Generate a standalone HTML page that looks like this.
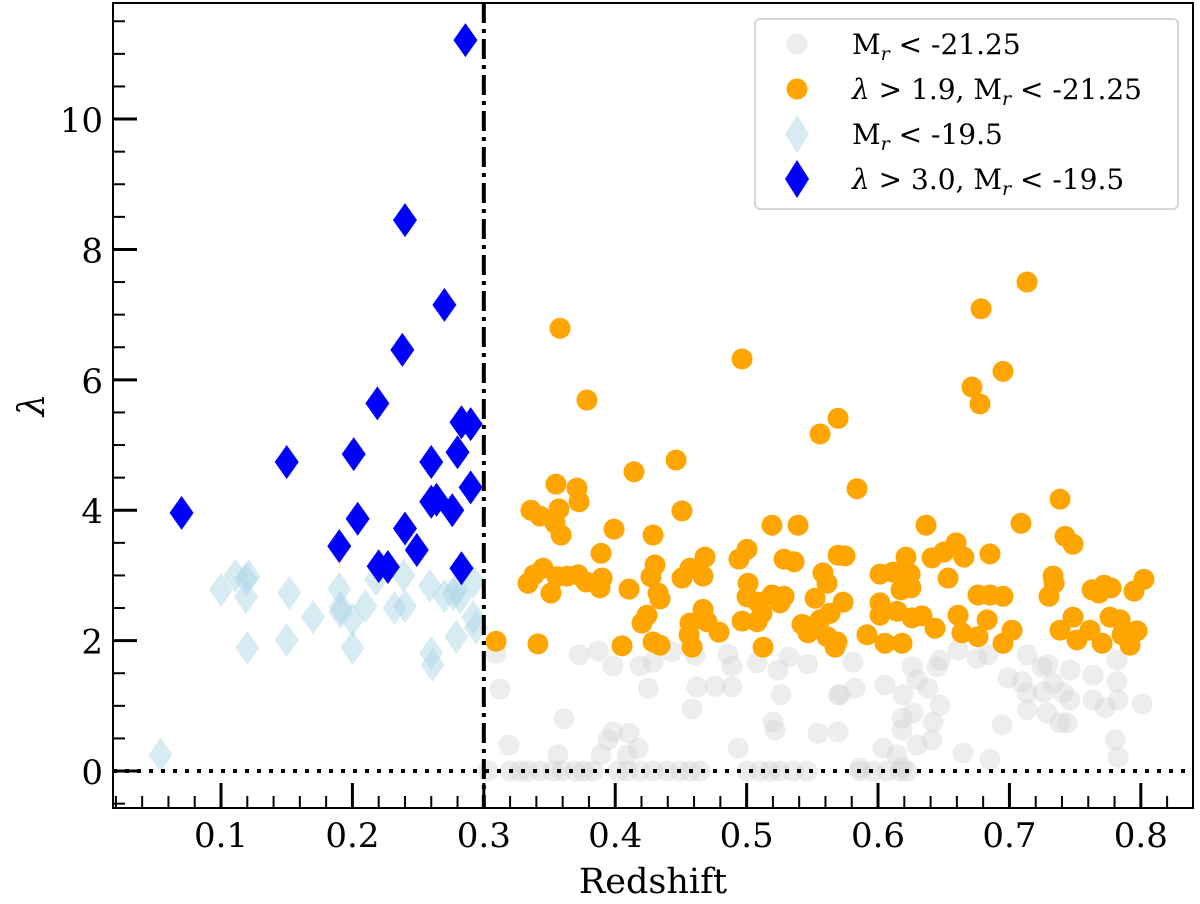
<!DOCTYPE html>
<html><head><meta charset="utf-8"><style>
body{margin:0;background:#fff}
svg{display:block}
text{font-family:"DejaVu Serif","Liberation Serif",serif;fill:#000}
</style></head><body>
<svg id="chart" width="1200" height="904" xmlns="http://www.w3.org/2000/svg">
<g id="marks"></g>
<g id="axes"></g>
<g id="legend"></g>
</svg>
<script>
const grayZ=[0.3093,0.3725,0.3870,0.3983,0.4189,0.4288,0.4432,0.4607,0.4858,0.4889,0.5079,0.5239,0.5323,0.5467,0.3123,0.4250,0.4623,0.4760,0.4889,0.5262,0.4585,0.3610,0.5201,0.5216,0.5543,0.5696,0.3192,0.3983,0.4105,0.3945,0.3564,0.3892,0.4174,0.4090,0.4935,0.5696,0.5810,0.5711,0.5825,0.6053,0.6190,0.6259,0.6297,0.6381,0.6472,0.6449,0.6472,0.6266,0.6183,0.6183,0.6419,0.6411,0.6297,0.6038,0.6145,0.5863,0.6183,0.6609,0.6753,0.6837,0.6944,0.6647,0.6852,0.6989,0.7134,0.7096,0.7134,0.7134,0.7248,0.7294,0.7256,0.7286,0.7332,0.7408,0.7461,0.7461,0.7385,0.7438,0.7636,0.7636,0.7728,0.7819,0.7819,0.7827,0.8009,0.7804,0.7827,
0.3032,0.3199,0.3276,0.3336,0.3428,0.3527,0.3595,0.3694,0.3755,0.3831,0.4021,0.4090,0.4189,0.4288,0.4394,0.4493,0.4569,0.4645,0.5003,0.5102,0.5178,0.5254,0.5353,0.5460,0.5863,0.5962,0.6069,0.6168,0.6221];
const grayL=[1.81,1.78,1.84,1.61,1.61,1.67,1.83,1.78,1.79,1.61,1.66,1.55,1.75,1.64,1.26,1.27,1.29,1.30,1.29,1.17,0.95,0.80,0.75,0.63,0.58,0.60,0.40,0.60,0.58,0.48,0.25,0.25,0.35,0.25,0.35,1.17,1.67,1.17,1.27,1.32,1.17,1.60,1.40,1.27,1.70,1.60,1.01,0.89,0.81,0.63,0.75,0.48,0.40,0.35,0.25,0.05,0.06,1.86,1.73,1.78,0.71,0.28,0.18,1.43,1.78,1.37,1.20,0.94,1.60,1.63,1.21,0.89,1.35,1.20,1.55,1.09,0.74,0.74,1.47,1.09,0.97,1.70,1.37,1.09,1.03,0.48,0.21,
0,0,0,0,0,0,0,0,0,0,0,0,0,0,0,0,0,0,0,0,0,0,0,0,0,0,0,0,0];
const orangeZ=[0.358,0.4965,0.3785,0.5696,0.5559,0.4463,0.4143,0.3549,0.3709,0.3725,0.3572,0.3359,0.3428,0.3542,0.4508,0.3588,0.3991,0.4288,0.5193,0.5391,0.3892,0.4683,0.5003,0.4942,0.5285,0.5361,0.5696,0.4303,0.4569,0.3451,0.5581,0.3336,0.3382,0.3557,0.3633,0.3717,0.3778,0.3900,0.3884,0.3511,0.4105,0.4272,0.4508,0.4668,0.5011,0.4326,0.4341,0.5003,0.5193,0.5285,0.5087,0.5254,0.5521,0.5612,0.4242,0.4204,0.4668,0.4569,0.4965,0.5079,0.5117,0.4699,0.4790,0.5422,0.5467,0.5559,0.5612,0.5673,0.4562,0.4585,0.3093,0.3412,0.4052,0.4288,0.4341,0.5125,
0.7134,0.6784,0.6951,0.6715,0.6776,0.5840,0.7385,0.6365,0.7088,0.7423,0.7484,0.5749,0.6213,0.6411,0.6502,0.6594,0.6654,0.6852,0.6015,0.6114,0.6244,0.6175,0.6251,0.6533,0.7332,0.7340,0.7301,0.8024,0.7948,0.7629,0.7720,0.7773,0.7682,0.6761,0.6852,0.6951,0.5734,0.6015,0.6015,0.6145,0.6259,0.6335,0.6434,0.6609,0.6639,0.6761,0.6830,0.6951,0.7020,0.7385,0.7484,0.7514,0.7613,0.7705,0.7766,0.7842,0.7971,0.7918,0.7857,0.5916,0.6053,0.6183,0.5688,0.5635];
const orangeL=[6.79,6.32,5.69,5.41,5.17,4.77,4.59,4.40,4.34,4.13,4.02,4.00,3.91,3.80,3.99,3.62,3.71,3.62,3.77,3.77,3.34,3.28,3.40,3.25,3.25,3.21,3.31,3.16,3.11,3.11,3.04,2.88,3.01,2.98,2.99,3.01,2.90,2.96,2.81,2.73,2.79,2.98,2.96,2.99,2.88,2.73,2.64,2.67,2.70,2.68,2.59,2.58,2.65,2.88,2.39,2.27,2.48,2.27,2.30,2.29,2.42,2.29,2.13,2.25,2.12,2.32,2.06,1.90,2.09,1.90,1.99,1.95,1.92,1.98,1.93,1.90,
7.50,7.09,6.13,5.89,5.63,4.33,4.17,3.77,3.80,3.60,3.48,3.30,3.28,3.27,3.36,3.50,3.28,3.33,3.02,3.05,3.02,2.78,2.81,2.96,2.99,2.88,2.68,2.94,2.76,2.78,2.85,2.81,2.73,2.70,2.70,2.68,2.59,2.58,2.39,2.45,2.35,2.38,2.19,2.39,2.12,2.06,2.32,1.96,2.16,2.16,2.36,2.01,2.16,1.96,2.36,2.32,2.15,1.93,2.09,2.09,1.96,1.96,1.98,2.42];
const lightZ=[0.100,0.111,0.121,0.119,0.119,0.120,0.152,0.150,0.170,0.190,0.191,0.191,0.200,0.210,0.200,0.218,0.232,0.240,0.239,0.259,0.260,0.261,0.270,0.279,0.277,0.282,0.292,0.279,0.294,0.292,0.054];
const lightL=[2.78,3.00,2.99,2.67,2.94,1.89,2.73,2.01,2.36,2.79,2.51,2.44,2.32,2.53,1.89,2.94,2.50,2.53,3.00,2.84,1.81,1.63,2.68,2.79,2.71,2.67,2.90,2.06,2.20,2.36,0.25];
const blueZ=[0.286,0.240,0.270,0.238,0.219,0.283,0.290,0.280,0.201,0.150,0.260,0.290,0.070,0.260,0.264,0.276,0.204,0.240,0.190,0.249,0.220,0.227,0.283];
const blueL=[11.21,8.45,7.15,6.46,5.64,5.35,5.32,4.89,4.86,4.74,4.74,4.35,3.96,4.13,4.16,4.00,3.87,3.72,3.45,3.39,3.14,3.13,3.11];
const xTicks=[0.1,0.2,0.3,0.4,0.5,0.6,0.7,0.8];
const yTicks=[0,2,4,6,8,10];
const zCut=[0.3];

const L=113,R=1193,T=3,B=808;
const X0=0.0178,X1=0.8397,Y0=-0.567,Y1=11.78;
const sx=v=>L+(v-X0)/(X1-X0)*(R-L);
const sy=v=>B-(v-Y0)/(Y1-Y0)*(B-T);
const NS='http://www.w3.org/2000/svg';
function mk(tag,attrs,parent){const e=document.createElementNS(NS,tag);for(const k in attrs)e.setAttribute(k,attrs[k]);parent.appendChild(e);return e;}
const marks=document.getElementById('marks'),axes=document.getElementById('axes'),leg=document.getElementById('legend');
const cp=mk('clipPath',{id:'clip'},marks);
mk('rect',{x:L,y:T,width:R-L,height:B-T},cp);
const g=mk('g',{'clip-path':'url(#clip)'},marks);
function dia(cx,cy,w,h){return `M${cx},${cy-h/2}L${cx+w/2},${cy}L${cx},${cy+h/2}L${cx-w/2},${cy}Z`;}
grayZ.forEach((z,i)=>{const c=mk('circle',{cx:sx(z),cy:sy(grayL[i]),r:10.5,fill:'#d3d3d3','fill-opacity':0.4},g);

});
orangeZ.forEach((z,i)=>{const c=mk('circle',{cx:sx(z),cy:sy(orangeL[i]),r:10.5,fill:'#ffa500'},g);

});
lightZ.forEach((z,i)=>{const p=mk('path',{d:dia(sx(z),sy(lightL[i]),24,34),fill:'#add8e6','fill-opacity':0.5},g);

});
blueZ.forEach((z,i)=>{const p=mk('path',{d:dia(sx(z),sy(blueL[i]),24,34),fill:'#0000ff'},g);

});
const h0=mk('line',{x1:L,x2:R,y1:sy(0),y2:sy(0),stroke:'#000','stroke-width':4,'stroke-dasharray':'4,8'},g);


zCut.forEach(z=>{const v=mk('line',{x1:sx(z),x2:sx(z),y1:T,y2:B,stroke:'#000','stroke-width':4,'stroke-dasharray':'20,6,4,6'},g);

});
const fr=mk('rect',{x:L,y:T,width:R-L,height:B-T,fill:'none',stroke:'#000','stroke-width':2},axes);


for(let k=1;k<=41;k++){const v=k*0.02;if(v<X0||v>X1)continue;const major=Math.abs(v*10-Math.round(v*10))<1e-6;
mk('line',{x1:sx(v),x2:sx(v),y1:B,y2:B-(major?25:12),stroke:'#000','stroke-width':major?3:2},axes);}
for(let k=-1;k<=23;k++){const v=k*0.5;if(v<Y0||v>Y1)continue;const major=k%4===0;
mk('line',{x1:L,x2:L+(major?24:12),y1:sy(v),y2:sy(v),stroke:'#000','stroke-width':major?3:2},axes);}
xTicks.forEach(v=>{const t=mk('text',{x:sx(v),y:847,'font-size':34,'text-anchor':'middle'},axes);t.textContent=v.toFixed(1);

});
yTicks.forEach(v=>{const t=mk('text',{x:103,y:sy(v)+13,'font-size':34,'text-anchor':'end'},axes);t.textContent=v;

});
const xt=mk('text',{x:653,y:893,'font-size':35,'text-anchor':'middle'},axes);xt.textContent='Redshift';


const yt=mk('text',{x:44,y:405,'font-size':36,'text-anchor':'middle','font-style':'italic',transform:'rotate(-90 44 405)'},axes);yt.textContent='λ';


const lb=mk('rect',{x:755,y:19,width:423,height:190,rx:5,fill:'#fff','fill-opacity':0.8,stroke:'#d6d6d6','stroke-width':2},leg);


const sub='<tspan dy="6" font-size="19" font-style="italic">r</tspan><tspan dy="-6"> &lt; -';
const entries=[['c','#d3d3d3',0.4,'M'+sub+'21.25</tspan>'],
['c','#ffa500',1,'<tspan font-style="italic">λ</tspan> &gt; 1.9, M'+sub+'21.25</tspan>'],
['d','#add8e6',0.5,'M'+sub+'19.5</tspan>'],
['d','#0000ff',1,'<tspan font-style="italic">λ</tspan> &gt; 3.0, M'+sub+'19.5</tspan>']];
const ly=[44,89,134,179];
entries.forEach((e,i)=>{const grp=mk('g',{},leg);


if(e[0]==='c')mk('circle',{cx:797,cy:ly[i],r:10.5,fill:e[1],'fill-opacity':e[2]},grp);
else mk('path',{d:dia(797,ly[i],24,38),fill:e[1],'fill-opacity':e[2]},grp);
const t=mk('text',{x:852,y:ly[i]+10,'font-size':28},grp);t.innerHTML=e[3];});
</script>
</body></html>
